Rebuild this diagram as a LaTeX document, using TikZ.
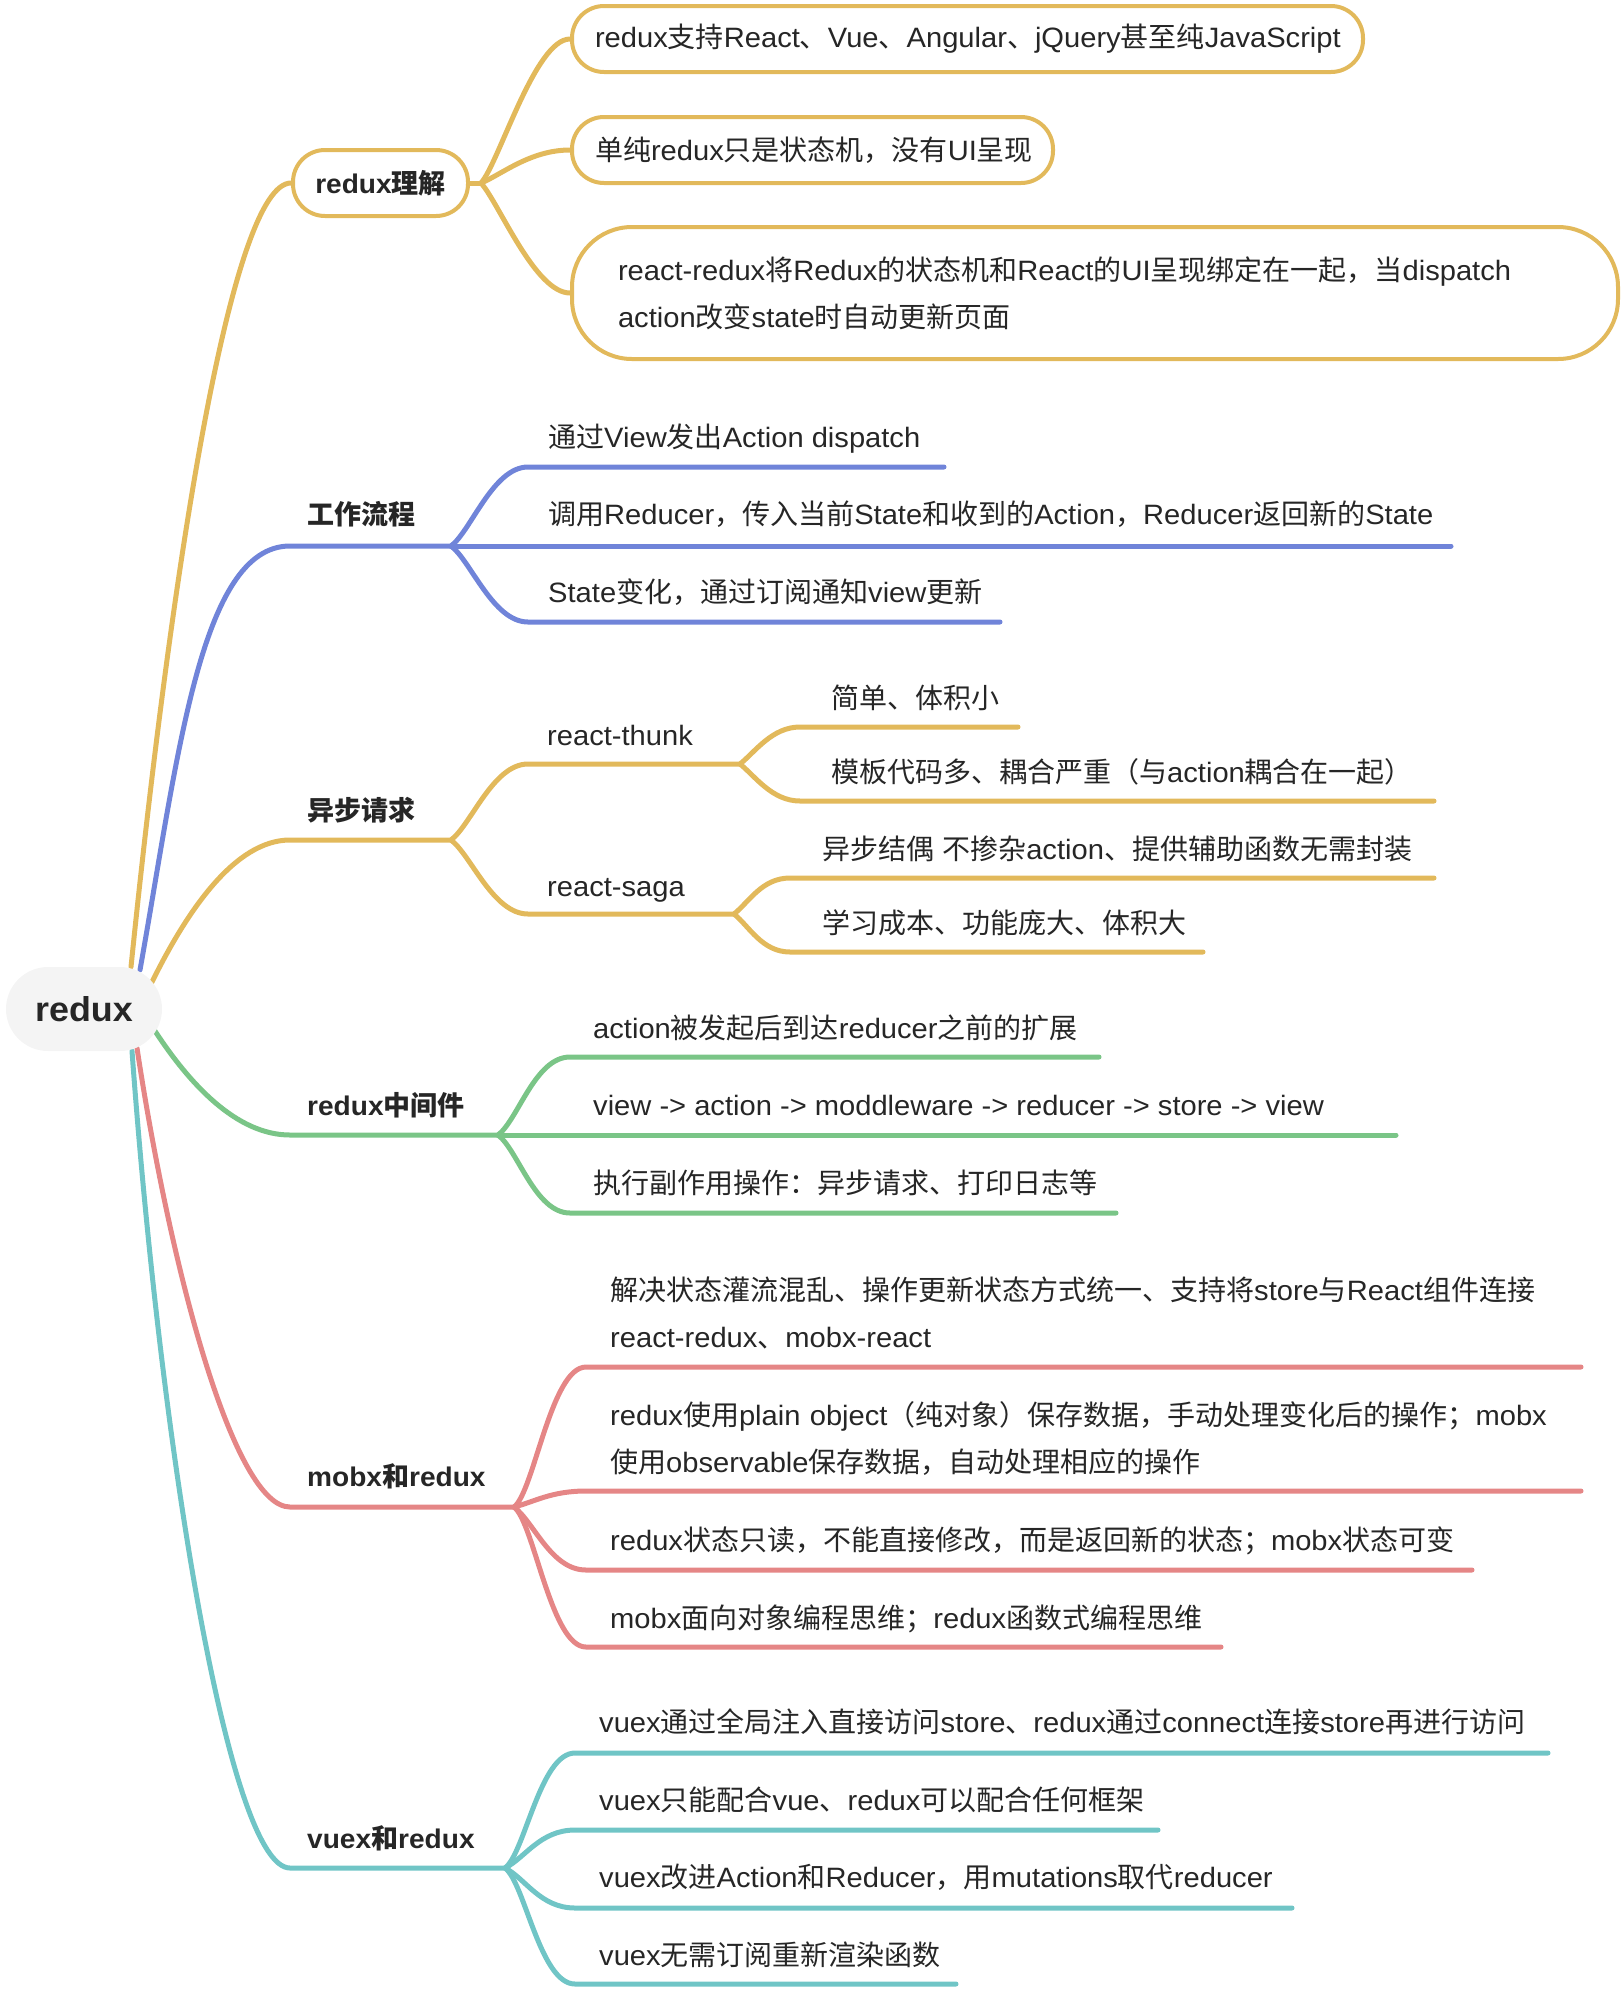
\documentclass[tikz,border=0pt]{standalone}
\usepackage{fontspec}
\setmainfont[FakeStretch=1.04]{Liberation Sans}
\newfontfamily\latinfam[FakeStretch=1.04]{Liberation Sans}
\newfontfamily\cjkfam{Noto Sans CJK SC}
% CJK characters switch to the CJK family automatically
\newXeTeXintercharclass\cjkclass
\makeatletter
\count@="3000
\loop\XeTeXcharclass\count@=\cjkclass \advance\count@\@ne \ifnum\count@<"3040 \repeat
\count@="4E00
\loop\XeTeXcharclass\count@=\cjkclass \advance\count@\@ne \ifnum\count@<"A000 \repeat
\count@="FF00
\loop\XeTeXcharclass\count@=\cjkclass \advance\count@\@ne \ifnum\count@<"FFF0 \repeat
\makeatother
\XeTeXinterchartoks 0 \cjkclass = {\cjkfam}
\XeTeXinterchartoks 4095 \cjkclass = {\cjkfam}
\XeTeXinterchartoks \cjkclass 0 = {\latinfam}
\XeTeXinterchartoks \cjkclass 4095 = {\latinfam}
\XeTeXinterchartokenstate=1
\usetikzlibrary{backgrounds}

\definecolor{yel}{HTML}{E2B95B}
\definecolor{blu}{HTML}{7084D9}
\definecolor{grn}{HTML}{7AC587}
\definecolor{rd}{HTML}{E58686}
\definecolor{tea}{HTML}{70C5C6}
\definecolor{ink}{HTML}{262626}
\definecolor{rootbg}{HTML}{F4F4F4}

\newcommand\leaffont{\fontsize{28}{47}\selectfont}
\newcommand\catfont{\fontsize{27}{27}\selectfont\bfseries}
\newcommand\rootfont{\fontsize{34.5}{34.5}\selectfont\bfseries}

\tikzset{
  leaf/.style={anchor=base west, inner sep=0pt, text=ink, font=\leaffont},
  cat/.style={anchor=base west, inner sep=0pt, text=ink, font=\catfont},
  br/.style={line width=5pt, line cap=round, line join=round},
  pill/.style={draw=yel, line width=4pt, fill=white, text=ink, inner ysep=0pt,
    minimum height=66pt, rounded corners=32pt, font=\leaffont},
  rootbox/.style={fill=rootbg, rounded corners=42pt, minimum width=156pt,
    minimum height=84pt, inner sep=0pt, text=ink, font=\rootfont},
}

\begin{document}
\begin{tikzpicture}[x=1pt,y=-1pt]
  \useasboundingbox (0,0) rectangle (1622,1990);

  % root
  \node[rootbox] (root) at (84,1009) {redux};
  \coordinate (r1) at (131,967);
  \coordinate (r2) at (140,970);
  \coordinate (r3) at (152,982);
  \coordinate (r4) at (155,1031);
  \coordinate (r5) at (137,1048);
  \coordinate (r6) at (132,1051);
  \coordinate (k0) at (290,0);

  % redux理解
  \node[pill, minimum width=175pt, font=\catfont] (u) at (380.5,183) {redux理解};
  \coordinate (j1) at (481,183);
  \node[pill, anchor=west, text width=745pt, inner xsep=23pt, align=left] (c1) at (570,39)
    {redux支持React、Vue、Angular、jQuery甚至纯JavaScript};
  \node[pill, anchor=west, text width=435pt, inner xsep=23pt, align=left] (c2) at (570,150)
    {单纯redux只是状态机，没有UI呈现};
  \node[pill, anchor=west, text width=954pt, inner xsep=46pt, align=left,
    minimum height=132pt, rounded corners=60pt] (c3) at (570,293)
    {react-redux将Redux的状态机和React的UI呈现绑定在一起，当dispatch\\action改变state时自动更新页面};

  % 工作流程
  \node[cat] (w) at (307,524) {工作流程};
  \coordinate (j2) at (451,546);
  \coordinate (k2) at (528,0);
  \node[leaf] (n21) at (548,447) {通过View发出Action dispatch};
  \node[leaf] (n22) at (548,524) {调用Reducer，传入当前State和收到的Action，Reducer返回新的State};
  \node[leaf] (n23) at (548,602) {State变化，通过订阅通知view更新};
  \coordinate (e21) at (944,467);
  \coordinate (e22) at (1451,546);
  \coordinate (e23) at (1000,622);

  % 异步请求
  \node[cat] (a) at (307,820) {异步请求};
  \coordinate (j3) at (451,840);
  \coordinate (k3) at (528,0);
  \node[leaf] (n31) at (547,745) {react-thunk};
  \node[leaf] (n32) at (547,896) {react-saga};
  \coordinate (j31) at (740,764);
  \coordinate (j32) at (734,914);
  \coordinate (k31) at (800,0);
  \coordinate (k32) at (790,0);
  \node[leaf] (n311) at (831,708) {简单、体积小};
  \node[leaf] (n312) at (831,782) {模板代码多、耦合严重（与action耦合在一起）};
  \node[leaf] (n321) at (822,859) {异步结偶 不掺杂action、提供辅助函数无需封装};
  \node[leaf] (n322) at (822,933) {学习成本、功能庞大、体积大};
  \coordinate (e311) at (1018,727);
  \coordinate (e312) at (1434,801);
  \coordinate (e321) at (1434,878);
  \coordinate (e322) at (1203,952);

  % redux中间件
  \node[cat] (m) at (307,1115) {redux中间件};
  \coordinate (j4) at (498,1135);
  \coordinate (k4) at (570,0);
  \node[leaf] (n41) at (593,1038) {action被发起后到达reducer之前的扩展};
  \node[leaf] (n42) at (593,1115) {view -> action -> moddleware -> reducer -> store -> view};
  \node[leaf] (n43) at (593,1193) {执行副作用操作：异步请求、打印日志等};
  \coordinate (e41) at (1099,1057);
  \coordinate (e42) at (1396,1135);
  \coordinate (e43) at (1116,1213);

  % mobx和redux
  \node[cat] (x) at (307,1486) {mobx和redux};
  \coordinate (j5) at (514,1507);
  \coordinate (k5) at (586,0);
  \node[leaf, text width=1000pt, align=left] (n51) at (610,1300)
    {解决状态灌流混乱、操作更新状态方式统一、支持将store与React组件连接\\react-redux、mobx-react};
  \node[leaf, text width=1000pt, align=left] (n52) at (610,1425)
    {redux使用plain object（纯对象）保存数据，手动处理变化后的操作；mobx\\使用observable保存数据，自动处理相应的操作};
  \node[leaf] (n53) at (610,1550) {redux状态只读，不能直接修改，而是返回新的状态；mobx状态可变};
  \node[leaf] (n54) at (610,1628) {mobx面向对象编程思维；redux函数式编程思维};
  \coordinate (e51) at (1581,1367);
  \coordinate (e52) at (1581,1491);
  \coordinate (e53) at (1472,1570);
  \coordinate (e54) at (1221,1647);

  % vuex和redux
  \node[cat] (v) at (307,1848) {vuex和redux};
  \coordinate (j6) at (505,1868);
  \coordinate (k6) at (575,0);
  \node[leaf] (n61) at (599,1732) {vuex通过全局注入直接访问store、redux通过connect连接store再进行访问};
  \node[leaf] (n62) at (599,1810) {vuex只能配合vue、redux可以配合任何框架};
  \node[leaf] (n63) at (599,1887) {vuex改进Action和Reducer，用mutations取代reducer};
  \node[leaf] (n64) at (599,1965) {vuex无需订阅重新渲染函数};
  \coordinate (e61) at (1548,1753);
  \coordinate (e62) at (1158,1830);
  \coordinate (e63) at (1292,1908);
  \coordinate (e64) at (956,1984);

  \begin{scope}[on background layer]
    % root branches
    \draw[br,yel] (r1) .. controls +(40,-392) and +(-60,0) .. (u.west);
    \draw[br,blu] (r2) .. controls +(38,-212) and +(-90,0) .. (k0 |- j2) -- (j2);
    \draw[br,yel] (r3) .. controls +(35,-71) and +(-55,0) .. (k0 |- j3) -- (j3);
    \draw[br,grn] (r4) .. controls +(34,52) and +(-54,0) .. (k0 |- j4) -- (j4);
    \draw[br,rd]  (r5) .. controls +(35,230) and +(-55,0) .. (k0 |- j5) -- (j5);
    \draw[br,tea] (r6) .. controls +(30,410) and +(-60,0) .. (k0 |- j6) -- (j6);
    % redux理解
    \draw[br,yel] (u.east) -- (j1);
    \draw[br,yel] (j1) .. controls +(18,-20) and +(-35,0) .. (c1.west);
    \draw[br,yel] (j1) .. controls +(20,-8) and +(-40,0) .. (c2.west);
    \draw[br,yel] (j1) .. controls +(18,20) and +(-35,0) .. (c3.west);
    % 工作流程
    \draw[br,blu] (j2) .. controls +(20,-15) and +(-35,0) .. (k2 |- e21) -- (e21);
    \draw[br,blu] (j2) -- (e22);
    \draw[br,blu] (j2) .. controls +(20,15) and +(-35,0) .. (k2 |- e23) -- (e23);
    % 异步请求
    \draw[br,yel] (j3) .. controls +(20,-15) and +(-35,0) .. (k3 |- j31) -- (j31);
    \draw[br,yel] (j3) .. controls +(20,15) and +(-35,0) .. (k3 |- j32) -- (j32);
    \draw[br,yel] (j31) .. controls +(15,-12) and +(-28,0) .. (k31 |- e311) -- (e311);
    \draw[br,yel] (j31) .. controls +(15,12) and +(-28,0) .. (k31 |- e312) -- (e312);
    \draw[br,yel] (j32) .. controls +(15,-12) and +(-28,0) .. (k32 |- e321) -- (e321);
    \draw[br,yel] (j32) .. controls +(15,12) and +(-28,0) .. (k32 |- e322) -- (e322);
    % redux中间件
    \draw[br,grn] (j4) .. controls +(20,-15) and +(-35,0) .. (k4 |- e41) -- (e41);
    \draw[br,grn] (j4) -- (e42);
    \draw[br,grn] (j4) .. controls +(20,15) and +(-35,0) .. (k4 |- e43) -- (e43);
    % mobx和redux
    \draw[br,rd] (j5) .. controls +(20,-15) and +(-35,0) .. (k5 |- e51) -- (e51);
    \draw[br,rd] (j5) .. controls +(20,-5) and +(-35,0) .. (k5 |- e52) -- (e52);
    \draw[br,rd] (j5) .. controls +(20,15) and +(-35,0) .. (k5 |- e53) -- (e53);
    \draw[br,rd] (j5) .. controls +(20,15) and +(-35,0) .. (k5 |- e54) -- (e54);
    % vuex和redux
    \draw[br,tea] (j6) .. controls +(20,-15) and +(-35,0) .. (k6 |- e61) -- (e61);
    \draw[br,tea] (j6) .. controls +(20,-10) and +(-35,0) .. (k6 |- e62) -- (e62);
    \draw[br,tea] (j6) .. controls +(20,10) and +(-35,0) .. (k6 |- e63) -- (e63);
    \draw[br,tea] (j6) .. controls +(20,15) and +(-35,0) .. (k6 |- e64) -- (e64);
  \end{scope}
\end{tikzpicture}
\end{document}
